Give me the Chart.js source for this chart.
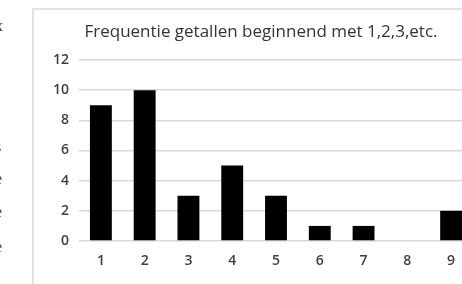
<!DOCTYPE html>
<html>
<head>
<meta charset="utf-8">
<script src="https://cdn.jsdelivr.net/npm/chart.js@4/dist/chart.umd.min.js"></script>
<style>
  html, body { margin: 0; padding: 0; width: 462px; height: 284px; overflow: hidden; background: #fff; }
  #frame { position: absolute; left: 32px; top: 8px; width: 460px; height: 290px; border-left: 2px solid #e2e2e2; border-top: 2px solid #e2e2e2; }
  #wrap { position: absolute; left: 34px; top: 10px; width: 454px; height: 274px; }
  #frags { position: absolute; left: 0; top: 0; width: 10px; height: 284px; overflow: hidden; filter: grayscale(1); }
  .frag { position: absolute; left: -5px; font-family: "Liberation Serif", serif; font-size: 16px; color: #444; }
</style>
</head>
<body>
<div id="frags">
<div class="frag" style="top:17px">x</div>
<div class="frag" style="top:57px">l</div>
<div class="frag" style="top:97px">,</div>
<div class="frag" style="top:138px">s</div>
<div class="frag" style="top:170px">e</div>
<div class="frag" style="top:203px">e</div>
<div class="frag" style="top:238px">e</div>
</div>
<div id="frame"></div>
<div id="wrap"><canvas id="c"></canvas></div>
<script>
const categories = ["1","2","3","4","5","6","7","8","9"];
const frequencies = [9, 10, 3, 5, 3, 1, 1, 0, 2];
const yTicks = [0, 2, 4, 6, 8, 10, 12];
const titleText = "Frequentie getallen beginnend met 1,2,3,etc.";

new Chart(document.getElementById('c'), {
  type: 'bar',
  data: {
    labels: categories,
    datasets: [{
      data: frequencies,
      backgroundColor: '#000',
      borderColor: '#000',
      borderWidth: 0,
      barPercentage: 0.5,
      categoryPercentage: 1.0
    }]
  },
  options: {
    responsive: true,
    maintainAspectRatio: false,
    animation: false,
    layout: { padding: 0 },
    plugins: {
      legend: { display: false },
      tooltip: { enabled: false },
      title: {
        display: true,
        text: titleText,
        color: '#333333',
        font: { family: 'Open Sans', size: 17, weight: 'normal' },
        padding: { top: 12, bottom: 17.6 }
      }
    },
    scales: {
      x: {
        grid: { display: false, drawTicks: false },
        border: { display: false },
        ticks: { color: '#3f3f3f', font: { family: 'Open Sans', size: 14, weight: '600' }, padding: 12 },
        afterFit(scale) { scale.height = 43; }
      },
      y: {
        min: 0, max: 12,
        afterBuildTicks(scale) { scale.ticks = yTicks.map(v => ({ value: v })); },
        grid: { color: '#d9d9d9', lineWidth: 1.5, drawTicks: false },
        border: { display: false },
        ticks: { color: '#3f3f3f', font: { family: 'Open Sans', size: 14, weight: '600' }, padding: 10 },
        afterFit(scale) { scale.width = 45; }
      },
      yRight: {
        position: 'right',
        min: 0, max: 12,
        grid: { display: false, drawTicks: false },
        border: { display: false },
        ticks: { display: false },
        afterFit(scale) { scale.width = 15; }
      }
    }
  }
});
</script>
</body>
</html>
